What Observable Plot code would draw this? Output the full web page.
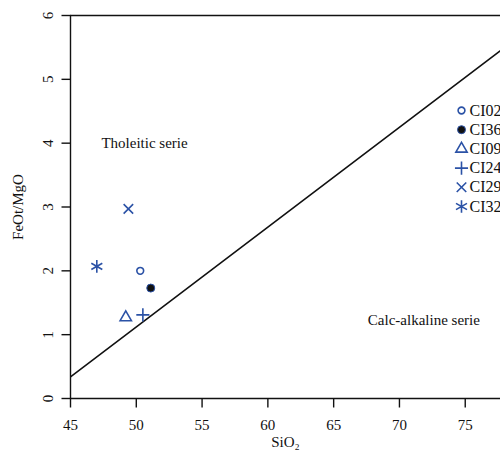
<!DOCTYPE html>
<html>
<head>
<meta charset="utf-8">
<script src="https://cdn.jsdelivr.net/npm/d3@7"></script>
<script src="https://cdn.jsdelivr.net/npm/@observablehq/plot@0.6"></script>
<style>
  html, body { margin: 0; padding: 0; background: #fff; }
  #chart { width: 500px; height: 450px; overflow: hidden; }
</style>
</head>
<body>
<div id="chart"></div>
<script>
// Samples
const samples = ["CI02", "CI36", "CI09", "CI24", "CI29", "CI32"];
const sio2    = [50.3, 51.1, 49.2, 50.5, 49.4, 47.0];
const feoMgo  = [2.00, 1.73, 1.27, 1.31, 2.97, 2.07];

// Boundary line (tholeiitic / calc-alkaline)
const lineSiO2 = [45, 78];
const lineFeO  = [0.34, 5.50];

// Field labels
const fieldNames = ["Tholeitic serie", "Calc-alkaline serie"];
const fieldSiO2  = [47.35, 67.6];
const fieldFeO   = [4.0, 1.22];

// Ticks
const xTicks = [45, 50, 55, 60, 65, 70, 75];
const yTicks = [0, 1, 2, 3, 4, 5, 6];

// layout
const W = 500, H = 450, ML = 70, MR = 0, MT = 15, MB = 52;
const xDomain = [45, 77.68], yDomain = [0, 6];
const TICK = 9; // px
const xPerPx = (xDomain[1] - xDomain[0]) / (W - ML - MR);
const yPerPx = (yDomain[1] - yDomain[0]) / (H - MT - MB);

const blue = "#2b52a6";
const style = {
  CI02: {symbol: "circle", r: 3.4, fill: "none", stroke: blue, sw: 1.6},
  CI36: {symbol: "circle", r: 4, fill: "#111", stroke: blue, sw: 1},
  CI09: {symbol: "triangle2", r: 5.4, fill: "none", stroke: blue, sw: 1.6},
  CI24: {symbol: "plus", r: 4.3, fill: "none", stroke: blue, sw: 1.6},
  CI29: {symbol: "times", r: 4.4, fill: "none", stroke: blue, sw: 1.6},
  CI32: {symbol: "asterisk", r: 6, fill: "none", stroke: blue, sw: 1.6}
};

const pts = samples.map((s, i) => ({sample: s, x: sio2[i], y: feoMgo[i]}));
const boundary = lineSiO2.map((x, i) => ({x, y: lineFeO[i]}));
const fields = fieldNames.map((t, i) => ({t, x: fieldSiO2[i], y: fieldFeO[i]}));

const pointMarks = pts.map(p => {
  const s = style[p.sample];
  return Plot.dot([p], {x: "x", y: "y", symbol: () => s.symbol, r: s.r,
    fill: s.fill, stroke: s.stroke, strokeWidth: s.sw});
});

const legendMarks = samples.flatMap((name, i) => {
  const s = style[name];
  return [
    Plot.dot([name], {frameAnchor: "top-right", dx: -39, dy: 95 + i * 19.2,
      symbol: () => s.symbol, r: s.r, fill: s.fill, stroke: s.stroke, strokeWidth: s.sw}),
    Plot.text([name], {frameAnchor: "top-right", dx: -31, dy: 95 + i * 19.2,
      text: d => d, textAnchor: "start", lineAnchor: "middle", fontSize: 16, fill: "#111"})
  ];
});

const chart = Plot.plot({
  width: W,
  height: H,
  marginLeft: ML,
  marginRight: MR,
  marginTop: MT,
  marginBottom: MB,
  style: {fontFamily: "'Liberation Serif', 'Times New Roman', serif", fontSize: "15px", color: "#111", background: "#fff"},
  x: {domain: xDomain},
  y: {domain: yDomain},
  marks: [
    Plot.line(boundary, {x: "x", y: "y", stroke: "#111", strokeWidth: 1.6, clip: true}),
    Plot.ruleY([0, 6], {stroke: "#111", strokeWidth: 1.4}),
    Plot.ruleX([45], {stroke: "#111", strokeWidth: 1.4}),
    // outward tick marks
    Plot.link(xTicks, {x1: d => d, x2: d => d, y1: () => yDomain[0], y2: () => yDomain[0] - TICK * yPerPx,
      stroke: "#111", strokeWidth: 1.4}),
    Plot.link(yTicks, {x1: () => xDomain[0], x2: () => xDomain[0] - TICK * xPerPx, y1: d => d, y2: d => d,
      stroke: "#111", strokeWidth: 1.4}),
    Plot.axisX({ticks: xTicks, tickSize: 0, tickPadding: 21, fontSize: 15,
      label: "SiO₂", labelAnchor: "center", labelArrow: "none", labelOffset: 48, fill: "#111"}),
    Plot.axisY({ticks: yTicks, tickSize: 0, tickPadding: 18, fontSize: 15, tickRotate: -90,
      tickFormat: d3.format("d"),
      label: "FeOt/MgO", labelAnchor: "center", labelArrow: "none", labelOffset: 58, fill: "#111"}),
    Plot.text(fields, {x: "x", y: "y", text: "t", textAnchor: "start", fontSize: 15, fill: "#111"}),
    ...pointMarks,
    ...legendMarks
  ]
});

document.getElementById("chart").appendChild(chart);
</script>
</body>
</html>
